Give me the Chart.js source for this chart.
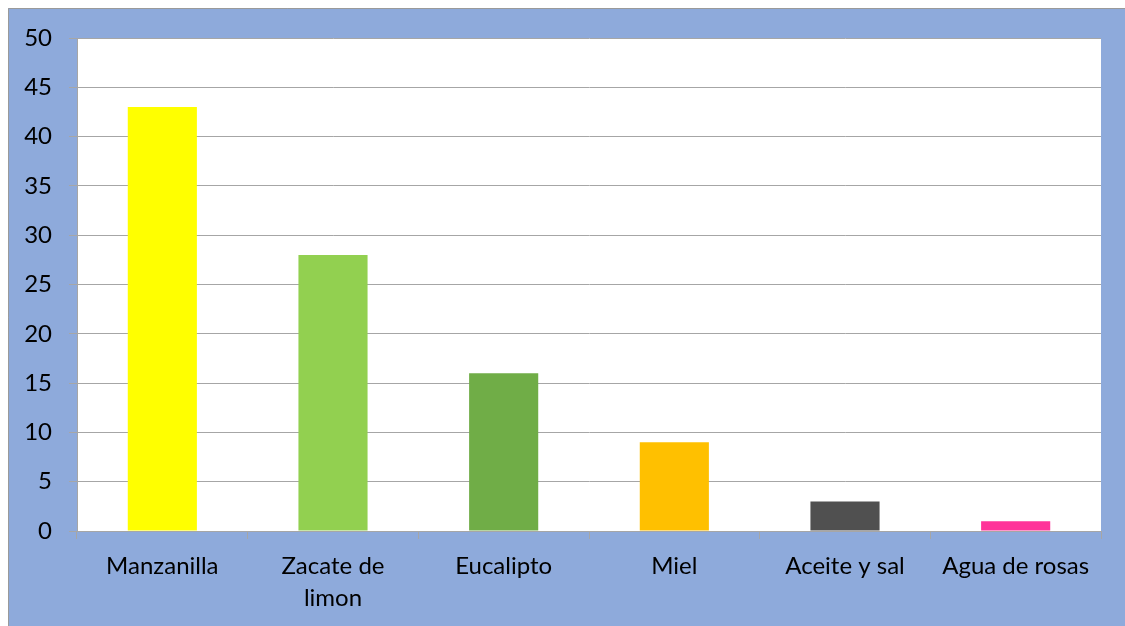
<!DOCTYPE html>
<html>
<head>
<meta charset="utf-8">
<script src="https://cdn.jsdelivr.net/npm/chart.js@4/dist/chart.umd.min.js"></script>
<style>
  html, body { margin: 0; padding: 0; background: #fff; }
  #wrap { width: 1125px; height: 626px; position: relative; }
</style>
</head>
<body>
<div id="wrap"><canvas id="grafica" width="1125" height="626"></canvas></div>
<script>
// DATOS
let categorias = [['Manzanilla'], ['Zacate de', 'limon'], ['Eucalipto'], ['Miel'], ['Aceite y sal'], ['Agua de rosas']];
let valores = [43, 28, 16, 9, 3, 1];
let colores = ['#FFFF00', '#92D050', '#70AD47', '#FFC000', '#505050', '#FF3399'];
let ticksY = [0, 5, 10, 15, 20, 25, 30, 35, 40, 45, 50];

// fondo azul + area blanca
const fondo = {
  id: 'fondo',
  beforeDraw(chart) {
    let c = chart.ctx;
    let a = chart.chartArea;
    c.save();
    c.fillStyle = '#ffffff';
    c.fillRect(0, 0, chart.width, chart.height);
    c.fillStyle = '#8EAADB';
    c.fillRect(8, 8, chart.width - 8, chart.height - 8);
    c.strokeStyle = '#9a9a9a';
    c.lineWidth = 1;
    c.beginPath();
    c.moveTo(8.5, chart.height);
    c.lineTo(8.5, 8.5);
    c.lineTo(chart.width, 8.5);
    c.stroke();
    c.fillStyle = '#ffffff';
    c.fillRect(a.left, a.top, a.right - a.left, a.bottom - a.top);
    c.restore();
  }
};

let ctx = document.getElementById('grafica').getContext('2d');
let grafica = new Chart(ctx, {
  type: 'bar',
  data: {
    labels: categorias,
    datasets: [{
      data: valores,
      backgroundColor: colores,
      borderWidth: 0,
      categoryPercentage: 1,
      barPercentage: 0.405
    }]
  },
  options: {
    responsive: false,
    animation: false,
    layout: { padding: { top: 38, right: 24, left: 0, bottom: 0 } },
    plugins: { legend: { display: false }, tooltip: { enabled: false } },
    scales: {
      x: {
        afterFit(axis) { axis.height = 95; },
        grid: { drawOnChartArea: false, drawTicks: true, tickLength: 8, color: '#a6a6a6' },
        border: { color: '#a6a6a6' },
        ticks: { color: '#000', font: { family: 'Lato', size: 24, lineHeight: 1.33 }, padding: 11, maxRotation: 0, autoSkip: false }
      },
      y: {
        min: 0,
        max: 50,
        afterFit(axis) { axis.width = 77; },
        afterBuildTicks(axis) { axis.ticks = ticksY.map(v => ({ value: v })); },
        grid: { color: '#a6a6a6', tickLength: 8 },
        border: { color: '#a6a6a6' },
        ticks: { color: '#000', font: { family: 'Lato', size: 24 }, padding: 17 }
      }
    }
  },
  plugins: [fondo]
});
</script>
</body>
</html>
